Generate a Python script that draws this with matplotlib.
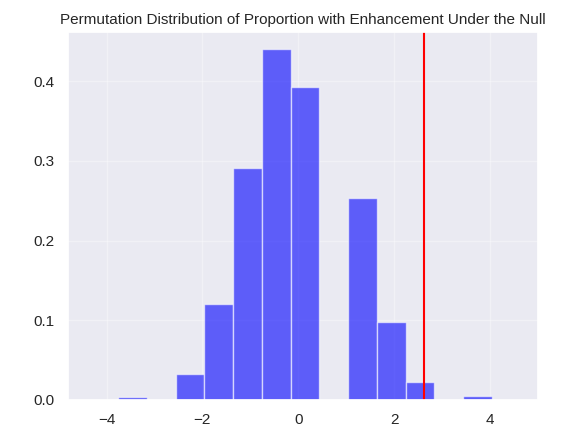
import matplotlib
matplotlib.use("Agg")
import matplotlib.pyplot as plt
import seaborn as sns
import numpy as np

sns.set_theme(style="darkgrid")
plt.rcParams['font.family'] = ['Liberation Sans', 'DejaVu Sans']

bin_edges = [-3.76, -3.16, -2.56, -1.96, -1.36, -0.76, -0.16, 0.44, 1.04, 1.64, 2.24, 2.84, 3.44, 4.04, 4.64]
densities = [0.003, 0.0, 0.033, 0.12, 0.291, 0.44, 0.393, 0.0, 0.253, 0.098, 0.023, 0.0, 0.005, 0.0]
observed = 2.62

fig, ax = plt.subplots(figsize=(5.68, 4.37), dpi=100)
edges = np.array(bin_edges)
centers = (edges[:-1] + edges[1:]) / 2
ax.hist(centers, bins=edges, weights=densities, color="blue", alpha=0.6, edgecolor="white")
ax.axvline(observed, color="red")
ax.set_xlim(-4.8, 5.0)
ax.grid(alpha=0.35)
ax.set_title("Permutation Distribution of Proportion with Enhancement Under the Null", fontsize=11)
fig.subplots_adjust(left=0.12, right=0.947, top=0.927, bottom=0.085)
fig.savefig("out.png")
